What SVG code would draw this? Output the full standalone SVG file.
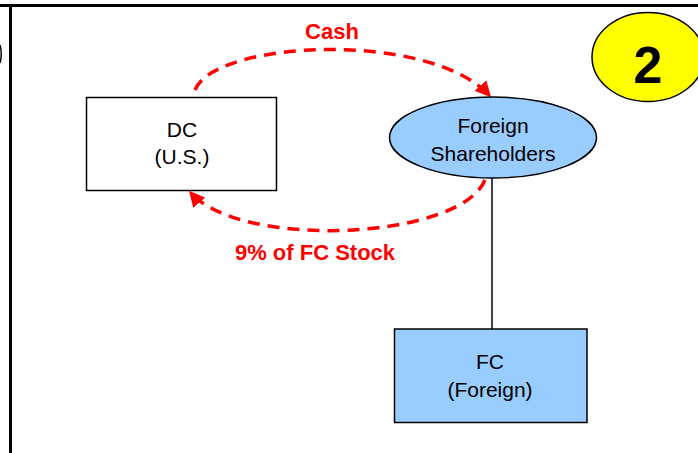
<svg xmlns="http://www.w3.org/2000/svg" width="698" height="453" viewBox="0 0 698 453">
<style>
.lbl{font-family:"Liberation Sans",Arial,sans-serif;font-size:21px;fill:#000;text-anchor:middle}
.red{font-family:"Liberation Sans",Arial,sans-serif;font-size:22px;font-weight:bold;fill:#FF0000;text-anchor:middle}
.dash{fill:none;stroke:#FF0000;stroke-width:3.5;stroke-dasharray:12 8}
.blue{fill:#99CCFF;stroke:#000;stroke-width:1.5}
</style>
<defs>
<marker id="ah" viewBox="0 0 10 10" refX="9" refY="5" markerWidth="4.5" markerHeight="4.5" orient="auto" markerUnits="strokeWidth">
<path d="M0,0 L10,5 L0,10 z" fill="#FF0000"/>
</marker>
</defs>
<rect width="698" height="453" fill="#fff"/>
<g id="frame">
<line x1="0" y1="5.5" x2="698" y2="5.5" stroke="#000" stroke-width="3"/>
<line x1="10.5" y1="5" x2="10.5" y2="453" stroke="#000" stroke-width="3"/>
<path d="M0,45 Q2.5,54 0,63" fill="none" stroke="#000" stroke-width="1.5"/>
</g>
<g id="badge">
<ellipse cx="648" cy="57" rx="56" ry="44.5" fill="#FFFF00" stroke="#000" stroke-width="1.5"/>
<text x="648" y="83" font-family="Liberation Sans,Arial,sans-serif" font-size="52" font-weight="bold" text-anchor="middle">2</text>
</g>
<g id="connectors">
<line x1="492" y1="178" x2="492" y2="329" stroke="#000" stroke-width="1.5"/>
<path class="dash" d="M195,90 C215,40 430,30 490,96" marker-end="url(#ah)"/>
<path class="dash" d="M485,180 C460,240 240,250 190,192" marker-end="url(#ah)"/>
</g>
<g id="cash-label"><text class="red" x="332" y="39">Cash</text></g>
<g id="stock-label"><text class="red" x="315" y="260">9% of FC Stock</text></g>
<g id="dc">
<rect x="86.5" y="97.5" width="190" height="93" fill="#fff" stroke="#000" stroke-width="1.5"/>
<text class="lbl" x="182" y="137">DC</text>
<text class="lbl" x="182" y="164">(U.S.)</text>
</g>
<g id="shareholders">
<ellipse class="blue" cx="493" cy="137.5" rx="103.5" ry="40.5"/>
<text class="lbl" x="493" y="133">Foreign</text>
<text class="lbl" x="493" y="161">Shareholders</text>
</g>
<g id="fc">
<rect class="blue" x="394.5" y="329" width="192.5" height="93.5"/>
<text class="lbl" x="490" y="369">FC</text>
<text class="lbl" x="490" y="397">(Foreign)</text>
</g>
</svg>
